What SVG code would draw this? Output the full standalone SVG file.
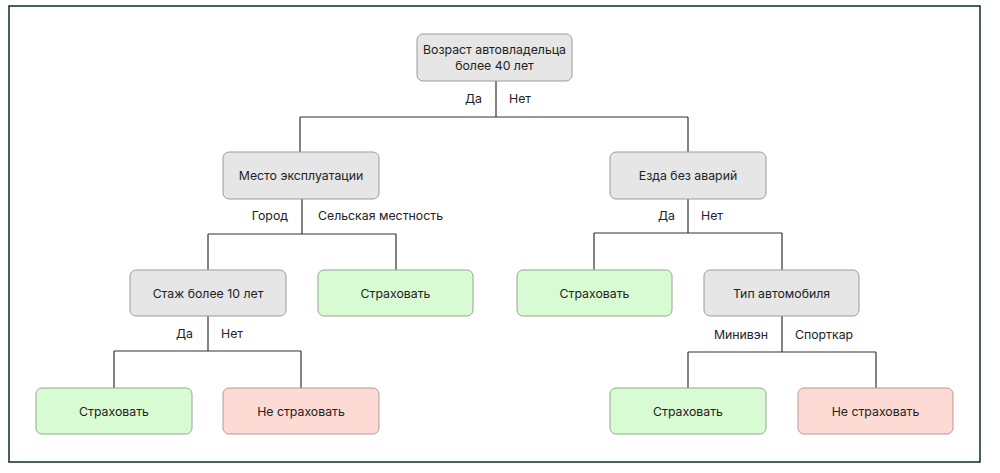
<svg xmlns="http://www.w3.org/2000/svg" width="1000" height="473" viewBox="0 0 1000 473">
  <style>
    .frame { fill: #ffffff; stroke: #0d2e27; stroke-width: 1.5; }
    .box { stroke-width: 1; }
    .q { fill: #e6e6e6; stroke: #9a9a9a; }
    .yes { fill: #d9fbd3; stroke: #93a88f; }
    .no { fill: #fddad3; stroke: #b39a95; }
    text { font-family: Inter, "Noto Sans", "Liberation Sans", sans-serif; font-size: 12.3px; fill: #222222; }
    .c { text-anchor: middle; }
    .e { text-anchor: end; }
    .links path { fill: none; stroke: #333333; stroke-width: 1.2; }
  </style>

  <rect class="frame" x="9" y="6" width="971" height="456"/>

  <!-- branches -->
  <g class="links">
    <path d="M496,81 V117 M300,117 H688 M300,117 V152 M688,117 V152"/>
    <path d="M302,199 V234 M208,234 H396 M208,234 V270 M396,234 V270"/>
    <path d="M208,316 V351 M114,351 H301 M114,351 V388 M301,351 V388"/>
    <path d="M688,199 V233 M594,233 H782 M594,233 V270 M782,233 V270"/>
    <path d="M782,316 V352 M688,352 H876 M688,352 V388 M876,352 V388"/>
  </g>

  <!-- branch labels -->
  <g id="labels">
    <text class="e" x="482" y="103">Да</text>
    <text x="509" y="103">Нет</text>
    <text class="e" x="288" y="220">Город</text>
    <text x="318" y="220">Сельская местность</text>
    <text class="e" x="193" y="338">Да</text>
    <text x="221" y="338">Нет</text>
    <text class="e" x="675" y="220">Да</text>
    <text x="701" y="220">Нет</text>
    <text class="e" x="768" y="339">Минивэн</text>
    <text x="795" y="339">Спорткар</text>
  </g>

  <g id="root">
    <rect class="box q" x="417" y="34" width="155" height="47" rx="6"/>
    <text class="c" x="494.5" y="53.5">Возраст автовладельца</text>
    <text class="c" x="494.5" y="69.5">более 40 лет</text>
  </g>

  <g id="place">
    <rect class="box q" x="223" y="152" width="156" height="47" rx="6"/>
    <text class="c" x="301" y="180">Место эксплуатации</text>
  </g>

  <g id="no-accidents">
    <rect class="box q" x="610" y="152" width="156" height="47" rx="6"/>
    <text class="c" x="688" y="180">Езда без аварий</text>
  </g>

  <g id="experience">
    <rect class="box q" x="130" y="270" width="156" height="46" rx="6"/>
    <text class="c" x="208" y="297.5">Стаж более 10 лет</text>
  </g>

  <g id="rural-insure">
    <rect class="box yes" x="318" y="270" width="155" height="46" rx="6"/>
    <text class="c" x="395.5" y="297.5">Страховать</text>
  </g>

  <g id="safe-insure">
    <rect class="box yes" x="517" y="270" width="155" height="46" rx="6"/>
    <text class="c" x="594.5" y="297.5">Страховать</text>
  </g>

  <g id="car-type">
    <rect class="box q" x="704" y="270" width="155" height="46" rx="6"/>
    <text class="c" x="781.5" y="297.5">Тип автомобиля</text>
  </g>

  <g id="exp-insure">
    <rect class="box yes" x="36" y="388" width="156" height="46" rx="6"/>
    <text class="c" x="114" y="415.5">Страховать</text>
  </g>

  <g id="exp-decline">
    <rect class="box no" x="223" y="388" width="156" height="46" rx="6"/>
    <text class="c" x="301" y="415.5">Не страховать</text>
  </g>

  <g id="minivan-insure">
    <rect class="box yes" x="610" y="388" width="156" height="46" rx="6"/>
    <text class="c" x="688" y="415.5">Страховать</text>
  </g>

  <g id="sportscar-decline">
    <rect class="box no" x="798" y="388" width="155" height="46" rx="6"/>
    <text class="c" x="875.5" y="415.5">Не страховать</text>
  </g>
</svg>
